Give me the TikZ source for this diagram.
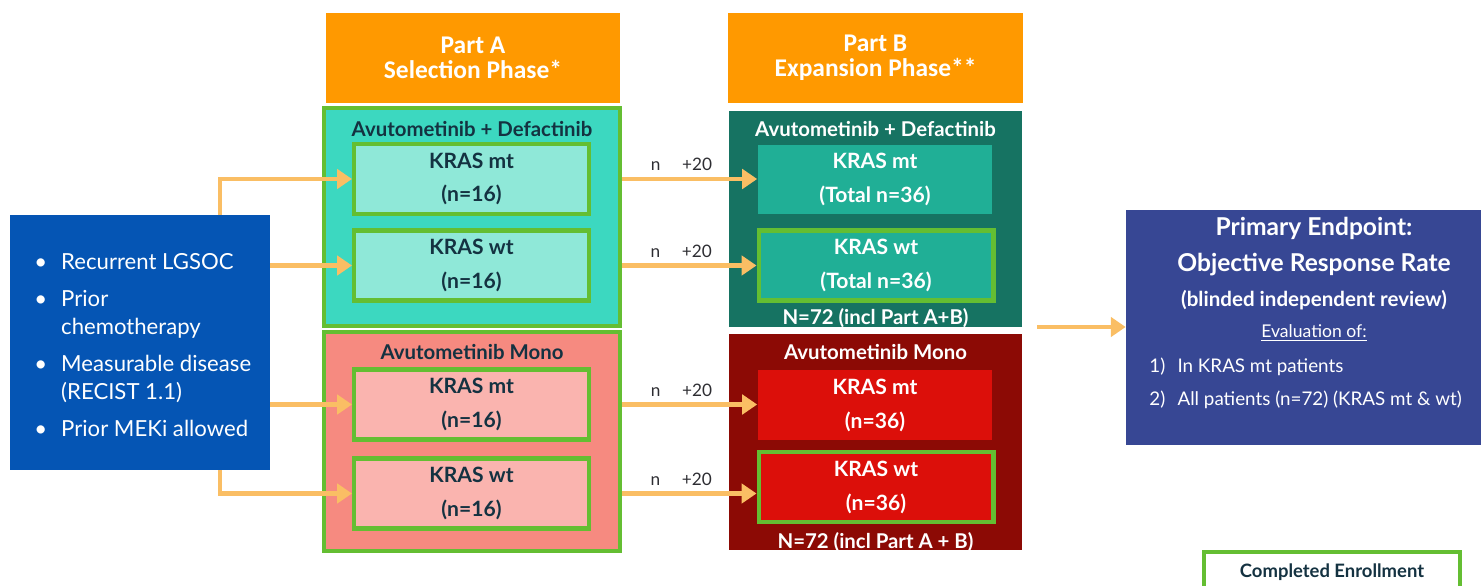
\documentclass[tikz,border=0pt]{standalone}
\usepackage{fontspec}
\setmainfont{Lato}
\newfontfamily\headfont{Carlito}
\usepackage{tikz}
\usetikzlibrary{arrows.meta}
\usetikzlibrary{calc}

\definecolor{hdorange}{RGB}{255,153,0}
\definecolor{enrgreen}{RGB}{100,190,50}
\definecolor{armAcombo}{RGB}{60,216,192}
\definecolor{cohAcombo}{RGB}{143,232,216}
\definecolor{armAmono}{RGB}{246,138,128}
\definecolor{cohAmono}{RGB}{250,180,175}
\definecolor{armBcombo}{RGB}{22,115,98}
\definecolor{cohBcombo}{RGB}{32,175,150}
\definecolor{armBmono}{RGB}{140,10,5}
\definecolor{cohBmono}{RGB}{220,15,10}
\definecolor{eligblue}{RGB}{5,85,180}
\definecolor{endblue}{RGB}{55,71,148}
\definecolor{arrorange}{RGB}{250,190,100}
\definecolor{darktxt}{RGB}{20,50,65}
\definecolor{numgray}{RGB}{45,45,50}

\tikzset{
	%	phase headers on top
	phase/.style={fill=hdorange, text=white, font=\headfont\fontsize{14.5}{14.3}\selectfont\bfseries, align=center, minimum width=5.9cm, minimum height=1.8cm, inner sep=0pt},
	arm/.style={minimum width=5.92cm, inner sep=0pt},
	cohort/.style={align=center, font=\fontsize{12}{19.3}\selectfont\bfseries, minimum width=4.7cm, minimum height=1.4cm, inner sep=0pt},
	done/.style={draw=enrgreen, line width=2.3pt},
	armtitle/.style={font=\fontsize{11.6}{12}\selectfont\bfseries, inner sep=0pt},
	edge/.style={-{Triangle[width=11pt,length=8.5pt]}, draw=arrorange, line width=2.8pt},
	addn/.style={font=\fontsize{9.8}{10}\selectfont, text=numgray, above=0pt, xshift=-0.16cm}
}

\begin{document}
\begin{tikzpicture}[x=0.02cm, y=-0.02cm]
\useasboundingbox (0,0) rectangle (1481,585);

% headers
\node[phase] (partA) at (473,58) {Part A\\Selection Phase*};
\node[phase] (partB) at (875.5,58) {Part B\\Expansion Phase**};

% eligibility
\node[fill=eligblue, text=white, minimum width=5.2cm, minimum height=5.1cm, inner sep=0pt] (elig) at (140,342.5) {};
\node[text=white, font=\fontsize{12.6}{16}\selectfont, align=left, anchor=west, inner sep=0pt] (crit) at (34,347) {%
\begin{tabular}{@{}l@{\hspace{8pt}}l@{}}
\textbullet & Recurrent LGSOC\\[5pt]
\textbullet & Prior\\
 & chemotherapy\\[5pt]
\textbullet & Measurable disease\\
 & (RECIST 1.1)\\[5pt]
\textbullet & Prior MEKi allowed
\end{tabular}};

% part A arms
\node[arm, done, fill=armAcombo, minimum height=4.36cm] (comboA) at (472,217) {};
\node[armtitle, text=darktxt] (comboAt) at (472,129) {Avutometinib + Defactinib};
\node[cohort, done, fill=cohAcombo, text=darktxt] (mtA) at (471.5,179) {KRAS mt\\(n=16)};
\node[cohort, done, fill=cohAcombo, text=darktxt] (wtA) at (471.5,265.5) {KRAS wt\\(n=16)};

\node[arm, done, fill=armAmono, minimum height=4.38cm] (monoA) at (472,441.5) {};
\node[armtitle, text=darktxt] (monoAt) at (472,352) {Avutometinib Mono};
\node[cohort, done, fill=cohAmono, text=darktxt] (mtA2) at (471.5,404.5) {KRAS mt\\(n=16)};
\node[cohort, done, fill=cohAmono, text=darktxt] (wtA2) at (471.5,493.5) {KRAS wt\\(n=16)};

% part B arms
\node[arm, fill=armBcombo, minimum width=5.86cm, minimum height=4.32cm] (comboB) at (875.5,219) {};
\node[armtitle, text=white] (comboBt) at (875.5,129) {Avutometinib + Defactinib};
\node[cohort, fill=cohBcombo, text=white] (mtB) at (875,179.5) {KRAS mt\\(Total n=36)};
\node[cohort, done, fill=cohBcombo, text=white] (wtB) at (876,265.5) {KRAS wt\\(Total n=36)};
\node[armtitle, text=white] (comboBn) at (875.5,318) {N=72 (incl Part A+B)};

\node[arm, fill=armBmono, minimum width=5.86cm, minimum height=4.32cm] (monoB) at (875.5,442) {};
\node[armtitle, text=white] (monoBt) at (875.5,352) {Avutometinib Mono};
\node[cohort, fill=cohBmono, text=white] (mtB2) at (875,405) {KRAS mt\\(n=36)};
\node[cohort, done, fill=cohBmono, text=white] (wtB2) at (876,487) {KRAS wt\\(n=36)};
\node[armtitle, text=white] (monoBn) at (875.5,542) {N=72 (incl Part A + B)};

% endpoint
\node[fill=endblue, minimum width=7.18cm, minimum height=4.7cm, inner sep=0pt] (endpt) at (1305.5,327.5) {};
\node[text=white, font=\fontsize{14}{20.2}\selectfont\bfseries, align=center, inner sep=0pt] (endtitle) at (1314,264) {Primary Endpoint:\\Objective Response Rate\\{\fontsize{11.7}{12}\selectfont(blinded independent review)}};
\node[text=white, font=\fontsize{10}{12}\selectfont, inner sep=0pt] (evalof) at (1314,333) {\underline{Evaluation of:}};
\node[text=white, font=\fontsize{10.7}{18.7}\selectfont, align=left, anchor=west, inner sep=0pt] (endlist) at (1149,382.5) {%
\begin{tabular}{@{}l@{\hspace{7pt}}l@{}}
1) & In KRAS mt patients\\
2) & All patients (n=72) (KRAS mt \& wt)
\end{tabular}};
\coordinate (endin) at (1037,327);
\draw[edge] (endin) -- (endpt.west |- endin);

% legend
\node[done, fill=white, text=darktxt, font=\fontsize{10.5}{10}\selectfont\bfseries, minimum width=5.12cm, minimum height=0.8cm, inner sep=0pt] (legend) at (1332,572) {Completed Enrollment};

% arrows into part A
\draw[edge] ([xshift=1.6cm]elig.north) |- (mtA.west);
\draw[edge] (elig.east |- wtA) -- (wtA.west);
\draw[edge] (elig.east |- mtA2) -- (mtA2.west);
\draw[edge] ([xshift=1.6cm]elig.south) |- (wtA2.west);

% part A to part B
\draw[edge] (comboA.east |- mtA) -- node[addn] {n\quad\ +20} (mtB.west |- mtA);
\draw[edge] (comboA.east |- wtA) -- node[addn] {n\quad\ +20} (wtB.west |- wtA);
\draw[edge] (monoA.east |- mtA2) -- node[addn] {n\quad\ +20} (mtB2.west |- mtA2);
\draw[edge] (monoA.east |- wtA2) -- node[addn] {n\quad\ +20} (wtB2.west |- wtA2);
\end{tikzpicture}
\end{document}
